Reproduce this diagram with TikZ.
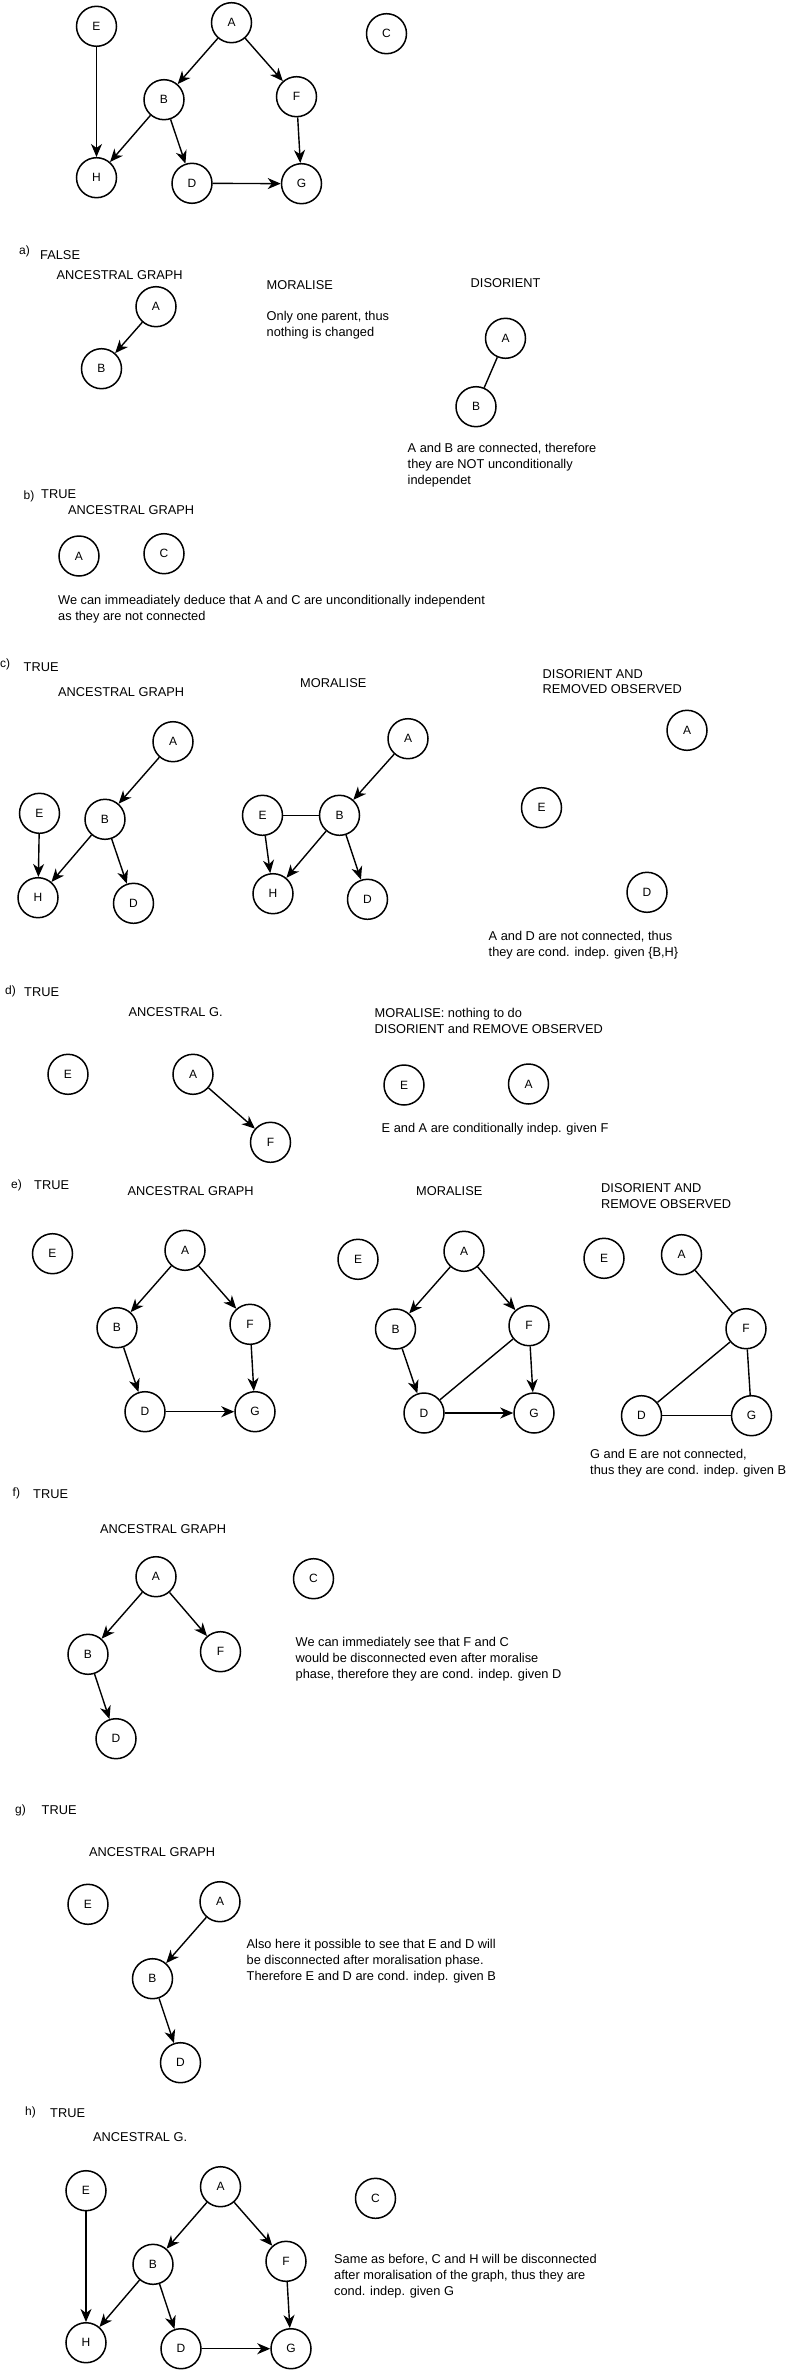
\documentclass[tikz,border=0pt]{standalone}
\usepackage{fontspec}
\setmainfont{Liberation Sans}
\usetikzlibrary{arrows.meta}

\begin{document}
\begin{tikzpicture}[x=1pt,y=-1pt,
    every node/.style={font=\fontsize{12}{16}\selectfont},
    var/.style={circle,draw,line width=1.5pt,minimum size=40pt,inner sep=0pt},
    txt/.style={anchor=base west,inner sep=0pt,align=left,font=\fontsize{12.8}{15.9}\selectfont},
    item/.style={anchor=base west,inner sep=0pt,font=\fontsize{12}{16}\selectfont},
    arrow/.style={-{Stealth[length=13pt,width=11pt,inset=4pt]},line width=1.4pt},
    link/.style={line width=1.4pt}
]
\useasboundingbox (0,0) rectangle (785,2371);

% Original network
\node[var] (E) at (96.5,26.3) {E};
\node[var] (A) at (231.5,22.7) {A};
\node[var] (C) at (386.5,33.7) {C};
\node[var] (B) at (164,99.7) {B};
\node[var] (F) at (296.5,96.7) {F};
\node[var] (H) at (96.5,177.7) {H};
\node[var] (D) at (192,183.3) {D};
\node[var] (G) at (301.5,183.7) {G};

\draw[arrow] (E) -- (H);
\draw[arrow] (A) -- (B);
\draw[arrow] (A) -- (F);
\draw[arrow] (B) -- (H);
\draw[arrow] (B) -- (D);
\draw[arrow] (F) -- (G);
\draw[arrow] (D) -- (G);

% a)
\node[item] (a-lbl) at (19,254.4) {a)};
\node[txt] (a-ans) at (40,259) {FALSE};
\node[txt] (a-anc) at (56.5,279) {ANCESTRAL GRAPH};
\node[txt] (a-mor) at (266.5,289) {MORALISE};
\node[txt] (a-dis) at (470.5,287) {DISORIENT};
\node[txt] (a-note) at (266.5,336.6) {Only one parent, thus\\nothing is changed};
\node[txt] (a-res) at (407.5,484.2) {A and B are connected, therefore\\they are NOT unconditionally\\independet};

\node[var] (a-A) at (156,306.7) {A};
\node[var] (a-B) at (101.5,368.7) {B};
\node[var] (a-dA) at (505.5,338.3) {A};
\node[var] (a-dB) at (476,406.7) {B};

\draw[arrow] (a-A) -- (a-B);
\draw[link] (a-dA) -- (a-dB);

% b)
\node[item] (b-lbl) at (23.5,499.4) {b)};
\node[txt] (b-ans) at (41,498.7) {TRUE};
\node[txt] (b-anc) at (68,514.7) {ANCESTRAL GRAPH};
\node[txt] (b-res) at (58,620.6) {We can immeadiately deduce that A and C are unconditionally independent\\as they are not connected};

\node[var] (b-A) at (79,556) {A};
\node[var] (b-C) at (164,553.7) {C};

% c)
\node[item] (c-lbl) at (0,667.7) {c)};
\node[txt] (c-ans) at (23.5,671) {TRUE};
\node[txt] (c-anc) at (58,696.4) {ANCESTRAL GRAPH};
\node[txt] (c-mor) at (300,687.4) {MORALISE};
\node[txt] (c-dis) at (542.5,693.9) {DISORIENT AND\\REMOVED OBSERVED};
\node[txt] (c-res) at (488.5,956.3) {A and D are not connected, thus\\they are cond. indep. given \{B,H\}};

\node[var] (c-A) at (173,741.7) {A};
\node[var] (c-E) at (39.5,813.3) {E};
\node[var] (c-B) at (105,819.3) {B};
\node[var] (c-H) at (38,897.7) {H};
\node[var] (c-D) at (133.5,903.3) {D};

\node[var] (c-mA) at (408,738.7) {A};
\node[var] (c-mE) at (262.5,815.3) {E};
\node[var] (c-mB) at (339.5,815.3) {B};
\node[var] (c-mH) at (273,893.7) {H};
\node[var] (c-mD) at (367.5,899.3) {D};

\node[var] (c-dA) at (687,730.3) {A};
\node[var] (c-dE) at (541.5,807.7) {E};
\node[var] (c-dD) at (647,892.3) {D};

\draw[arrow] (c-A) -- (c-B);
\draw[arrow] (c-E) -- (c-H);
\draw[arrow] (c-B) -- (c-H);
\draw[arrow] (c-B) -- (c-D);

\draw[arrow] (c-mA) -- (c-mB);
\draw[link] (c-mE) -- (c-mB);
\draw[arrow] (c-mE) -- (c-mH);
\draw[arrow] (c-mB) -- (c-mH);
\draw[arrow] (c-mB) -- (c-mD);

% d)
\node[item] (d-lbl) at (5,994.4) {d)};
\node[txt] (d-ans) at (24,996.7) {TRUE};
\node[txt] (d-anc) at (128.5,1016.7) {ANCESTRAL G.};
\node[txt] (d-mor) at (374.5,1033.3) {MORALISE: nothing to do\\DISORIENT and REMOVE OBSERVED};
\node[txt] (d-res) at (381.5,1132.7) {E and A are conditionally indep. given F};

\node[var] (d-E) at (68,1074.3) {E};
\node[var] (d-A) at (193,1074.3) {A};
\node[var] (d-F) at (270.5,1142.3) {F};
\node[var] (d-dE) at (404,1085) {E};
\node[var] (d-dA) at (528.5,1084) {A};

\draw[arrow] (d-A) -- (d-F);

% e)
\node[item] (e-lbl) at (11,1188.4) {e)};
\node[txt] (e-ans) at (34,1189.7) {TRUE};
\node[txt] (e-anc) at (127.5,1195.4) {ANCESTRAL GRAPH};
\node[txt] (e-mor) at (416,1195.4) {MORALISE};
\node[txt] (e-dis) at (601,1208.3) {DISORIENT AND\\REMOVE OBSERVED};
\node[txt] (e-res) at (590,1474.6) {G and E are not connected,\\thus they are cond. indep. given B};

\node[var] (e-E) at (52.5,1253.7) {E};
\node[var] (e-A) at (185,1250.3) {A};
\node[var] (e-B) at (117,1327.7) {B};
\node[var] (e-F) at (250,1324.3) {F};
\node[var] (e-D) at (145,1411.7) {D};
\node[var] (e-G) at (255,1411.7) {G};

\node[var] (e-mE) at (358,1259.3) {E};
\node[var] (e-mA) at (464,1251.3) {A};
\node[var] (e-mB) at (395.5,1329) {B};
\node[var] (e-mF) at (529,1325.7) {F};
\node[var] (e-mD) at (424,1413) {D};
\node[var] (e-mG) at (534,1413) {G};

\node[var] (e-dE) at (604,1258.3) {E};
\node[var] (e-dA) at (681.5,1254.7) {A};
\node[var] (e-dF) at (746,1328.7) {F};
\node[var] (e-dD) at (641.5,1415.7) {D};
\node[var] (e-dG) at (751.5,1415.7) {G};

\draw[arrow] (e-A) -- (e-B);
\draw[arrow] (e-A) -- (e-F);
\draw[arrow] (e-B) -- (e-D);
\draw[arrow] (e-F) -- (e-G);
\draw[arrow] (e-D) -- (e-G);

\draw[arrow] (e-mA) -- (e-mB);
\draw[arrow] (e-mA) -- (e-mF);
\draw[arrow] (e-mB) -- (e-mD);
\draw[arrow] (e-mF) -- (e-mG);
\draw[arrow] (e-mD) -- (e-mG);
\draw[link] (e-mD) -- (e-mF);

\draw[link] (e-dA) -- (e-dF);
\draw[link] (e-dF) -- (e-dD);
\draw[link] (e-dF) -- (e-dG);
\draw[link] (e-dD) -- (e-dG);

% f)
\node[item] (f-lbl) at (12.5,1496.7) {f)};
\node[txt] (f-ans) at (33,1498.7) {TRUE};
\node[txt] (f-anc) at (100,1533.7) {ANCESTRAL GRAPH};
\node[txt] (f-res) at (295.5,1678.2) {We can immediately see that F and C\\would be disconnected even after moralise\\phase, therefore they are cond. indep. given D};

\node[var] (f-A) at (156,1576.7) {A};
\node[var] (f-B) at (88,1654.3) {B};
\node[var] (f-F) at (220.5,1651.7) {F};
\node[var] (f-D) at (116,1738.7) {D};
\node[var] (f-C) at (313.5,1578.7) {C};

\draw[arrow] (f-A) -- (f-B);
\draw[arrow] (f-A) -- (f-F);
\draw[arrow] (f-B) -- (f-D);

% g)
\node[item] (g-lbl) at (15,1813) {g)};
\node[txt] (g-ans) at (41.5,1814.7) {TRUE};
\node[txt] (g-anc) at (89,1856.4) {ANCESTRAL GRAPH};
\node[txt] (g-res) at (246.5,1980.5) {Also here it possible to see that E and D will\\be disconnected after moralisation phase.\\Therefore E and D are cond. indep. given B};

\node[var] (g-E) at (88,1904.3) {E};
\node[var] (g-A) at (220,1901.7) {A};
\node[var] (g-B) at (152.5,1978.7) {B};
\node[var] (g-D) at (180.5,2062.7) {D};

\draw[arrow] (g-A) -- (g-B);
\draw[arrow] (g-B) -- (g-D);

% h)
\node[item] (h-lbl) at (25,2115) {h)};
\node[txt] (h-ans) at (50,2117.4) {TRUE};
\node[txt] (h-anc) at (93,2141.4) {ANCESTRAL G.};
\node[txt] (h-res) at (334,2295.5) {Same as before, C and H will be disconnected\\after moralisation of the graph, thus they are\\cond. indep. given G};

\node[var] (h-E) at (86,2190.7) {E};
\node[var] (h-A) at (220.5,2186.7) {A};
\node[var] (h-C) at (375.5,2198.3) {C};
\node[var] (h-B) at (153,2264.3) {B};
\node[var] (h-F) at (286,2261.3) {F};
\node[var] (h-H) at (86,2342.7) {H};
\node[var] (h-D) at (181,2348.7) {D};
\node[var] (h-G) at (291,2348.7) {G};

\draw[arrow] (h-E) -- (h-H);
\draw[arrow] (h-A) -- (h-B);
\draw[arrow] (h-A) -- (h-F);
\draw[arrow] (h-B) -- (h-H);
\draw[arrow] (h-B) -- (h-D);
\draw[arrow] (h-F) -- (h-G);
\draw[arrow] (h-D) -- (h-G);

\end{tikzpicture}
\end{document}
